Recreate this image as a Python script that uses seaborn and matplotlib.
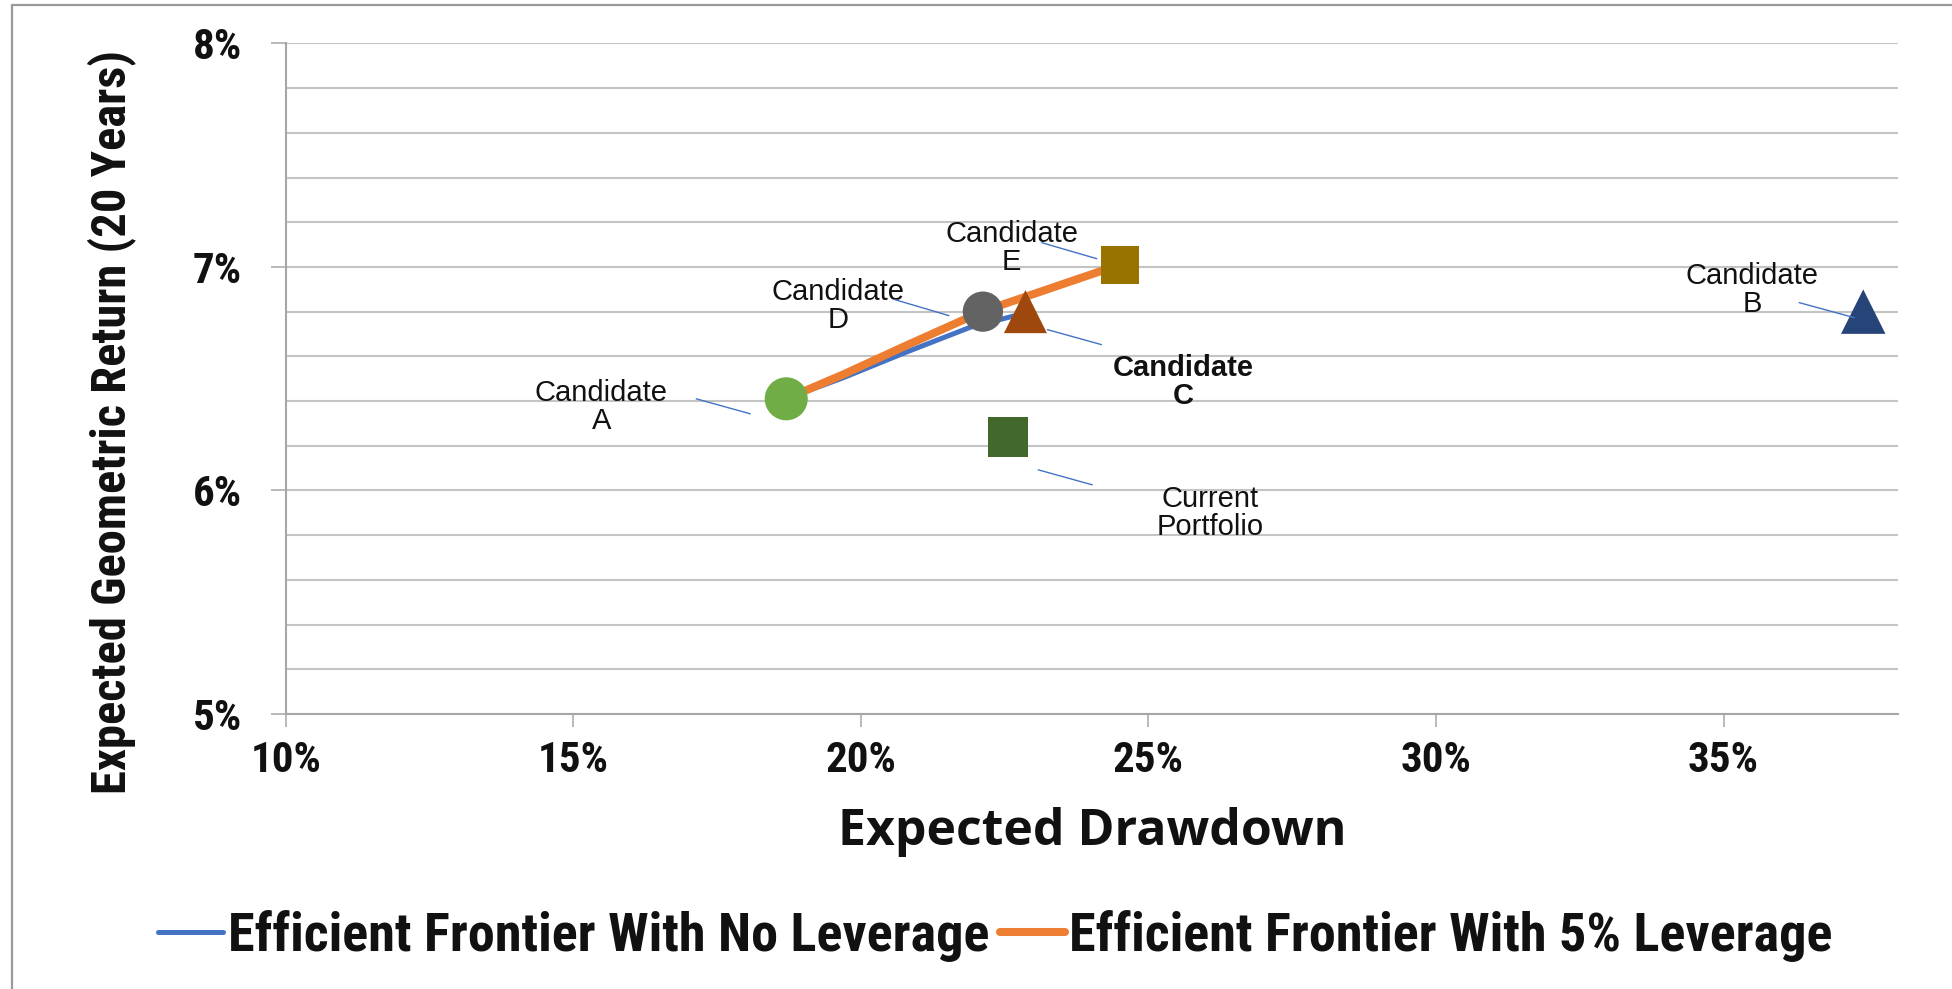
import numpy as np
import pandas as pd
import matplotlib
matplotlib.use("Agg")
import matplotlib.pyplot as plt
import seaborn as sns
from matplotlib import font_manager
from matplotlib.lines import Line2D
from matplotlib.transforms import offset_copy
from matplotlib.ticker import FuncFormatter, MultipleLocator

# ---- data (percent units) ----
no_lev_drawdown = [18.70, 19.70, 20.80, 21.90, 22.65]
no_lev_return = [6.41, 6.505, 6.62, 6.73, 6.78]

lev_drawdown = [18.70, 19.70, 20.80, 22.10, 22.90, 24.50]
lev_return = [6.41, 6.52, 6.65, 6.80, 6.87, 7.01]

cand_names = ["Candidate\nA", "Candidate\nD", "Candidate\nC", "Candidate\nE",
              "Candidate\nB", "Current\nPortfolio"]
cand_drawdown = [18.70, 22.12, 22.86, 24.50, 37.43, 22.56]
cand_return = [6.41, 6.80, 6.80, 7.01, 6.80, 6.24]

x_ticks = [10, 15, 20, 25, 30, 35]
y_ticks = [5, 6, 7, 8]

# ---- styles ----
cand_marker = ["o", "o", "^", "s", "^", "s"]
cand_color = ["#70AD47", "#636363", "#9E480E", "#997300", "#264478", "#43682B"]
cand_size = [31, 29, 31, 27.5, 32, 29]          # marker size in points
cand_bold = [False, False, True, False, False, False]
# label centre and leader line (start, end) as pixel offsets from the marker
label_off = [(-185, -8), (-145, 6), (158, -70), (-108, 17), (-111, 22), (202, -76)]
leader_off = [((-90, 0), (-36, -15)), ((-88, 12), (-34, -4)), ((22, -18), (76, -33)),
              ((-78, 22), (-23, 6)), ((-64, 9), (-9, -6)), ((30, -33), (84, -48))]

available = {f.name for f in font_manager.fontManager.ttflist}


def pick(*names):
    for n in names:
        if n in available:
            return n
    return "DejaVu Sans"


narrow = pick("Liberation Sans Narrow", "Roboto Condensed", "Open Sans Condensed",
              "DejaVu Sans Condensed", "Liberation Sans")
arial = pick("Liberation Sans", "Arimo", "DejaVu Sans")
wide = pick("Open Sans", "Noto Sans", "DejaVu Sans")

sns.set_style("white")
plt.rcParams["font.family"] = [arial, "DejaVu Sans"]

fig = plt.figure(figsize=(19.52, 9.89), dpi=100)
ax = fig.add_axes([0.1465, 0.2781, 0.8257, 0.678])

grid_col = "#C4C4C4"
axis_col = "#A6A6A6"

# frontiers
sns.lineplot(x=no_lev_drawdown, y=no_lev_return, sort=False, estimator=None,
             color="#4472C4", linewidth=3.6, label="Efficient Frontier With No Leverage",
             ax=ax, zorder=3)
sns.lineplot(x=lev_drawdown, y=lev_return, sort=False, estimator=None,
             color="#ED7D31", linewidth=5.8, label="Efficient Frontier With 5% Leverage",
             ax=ax, zorder=4)

# candidates
for i in range(len(cand_names)):
    sns.scatterplot(x=[cand_drawdown[i]], y=[cand_return[i]], marker=cand_marker[i],
                    s=cand_size[i] ** 2, color=cand_color[i], edgecolor="none",
                    linewidth=0, ax=ax, zorder=5, legend=False)
    ax.annotate(cand_names[i], xy=(cand_drawdown[i], cand_return[i]),
                xytext=label_off[i], textcoords="offset pixels",
                ha="center", va="center", fontsize=21, linespacing=1.0,
                fontweight="bold" if cand_bold[i] else "normal", color="#111111",
                zorder=6)
    (sx, sy), (ex, ey) = leader_off[i]
    t0 = offset_copy(ax.transData, fig=fig, x=sx, y=sy, units="dots")
    t1 = offset_copy(ax.transData, fig=fig, x=ex, y=ey, units="dots")
    ax.annotate("", xy=(cand_drawdown[i], cand_return[i]), xycoords=t1,
                xytext=(cand_drawdown[i], cand_return[i]), textcoords=t0,
                arrowprops=dict(arrowstyle="-", color="#4472C4", lw=1.0,
                                shrinkA=0, shrinkB=0), zorder=6)

ax.set_xlim(10, 38.03)
ax.set_ylim(5, 8)
ax.set_xticks(x_ticks)
ax.set_yticks(y_ticks)
ax.yaxis.set_minor_locator(MultipleLocator(0.2))
pct = FuncFormatter(lambda v, p: f"{v:.0f}%")
ax.xaxis.set_major_formatter(pct)
ax.yaxis.set_major_formatter(pct)

ax.grid(False)
ax.yaxis.grid(True, which="both", color=grid_col, linewidth=1.5, zorder=0)
ax.set_axisbelow(True)
for s in ["top", "right"]:
    ax.spines[s].set_visible(False)
for s in ["left", "bottom"]:
    ax.spines[s].set_color(axis_col)
    ax.spines[s].set_linewidth(1.5)

ax.tick_params(axis="y", which="major", direction="out", length=10.8, width=1.1,
               color=axis_col, pad=21, left=True)
ax.tick_params(axis="x", which="major", direction="out", length=9.4, width=1.1,
               color=axis_col, pad=9, bottom=True)
ax.tick_params(axis="both", which="minor", length=0)
for lab in ax.get_xticklabels() + ax.get_yticklabels():
    lab.set_fontfamily(narrow)
    lab.set_fontweight("bold")
    lab.set_fontsize(31)
    lab.set_color("#111111")

ax.set_xlabel("Expected Drawdown", fontfamily=wide, fontweight="bold", fontsize=36,
              color="#111111")
ax.xaxis.set_label_coords(0.5, 1 - (831.7 - 43.4) / 670.6, transform=ax.transAxes)
ax.set_ylabel("Expected Geometric Return (20 Years)", fontfamily=narrow,
              fontweight="bold", fontsize=35, color="#111111")
ax.yaxis.set_label_coords(-(286 - 112) / 1611.7, (714 - 422) / 670.6, transform=ax.transAxes)
ax.xaxis.label.set_va("center")
ax.yaxis.label.set_va("center")

leg = ax.legend(loc="center", bbox_to_anchor=(0.51, 0.054), bbox_transform=fig.transFigure,
                ncol=2, frameon=False, handlelength=1.2, handletextpad=0.08,
                columnspacing=0.2, borderpad=0,
                prop=dict(family=narrow, weight="bold", size=39))
for t in leg.get_texts():
    t.set_color("#111111")

# outer chart border (left and top edges visible)
border_col = "#9A9A9A"
fig.add_artist(Line2D([12 / 1952, 12 / 1952], [0, 1 - 5 / 989], transform=fig.transFigure,
                      color=border_col, linewidth=1.6))
fig.add_artist(Line2D([12 / 1952, 1], [1 - 5 / 989, 1 - 5 / 989], transform=fig.transFigure,
                      color=border_col, linewidth=1.6))

fig.savefig("out.png", dpi=100)
